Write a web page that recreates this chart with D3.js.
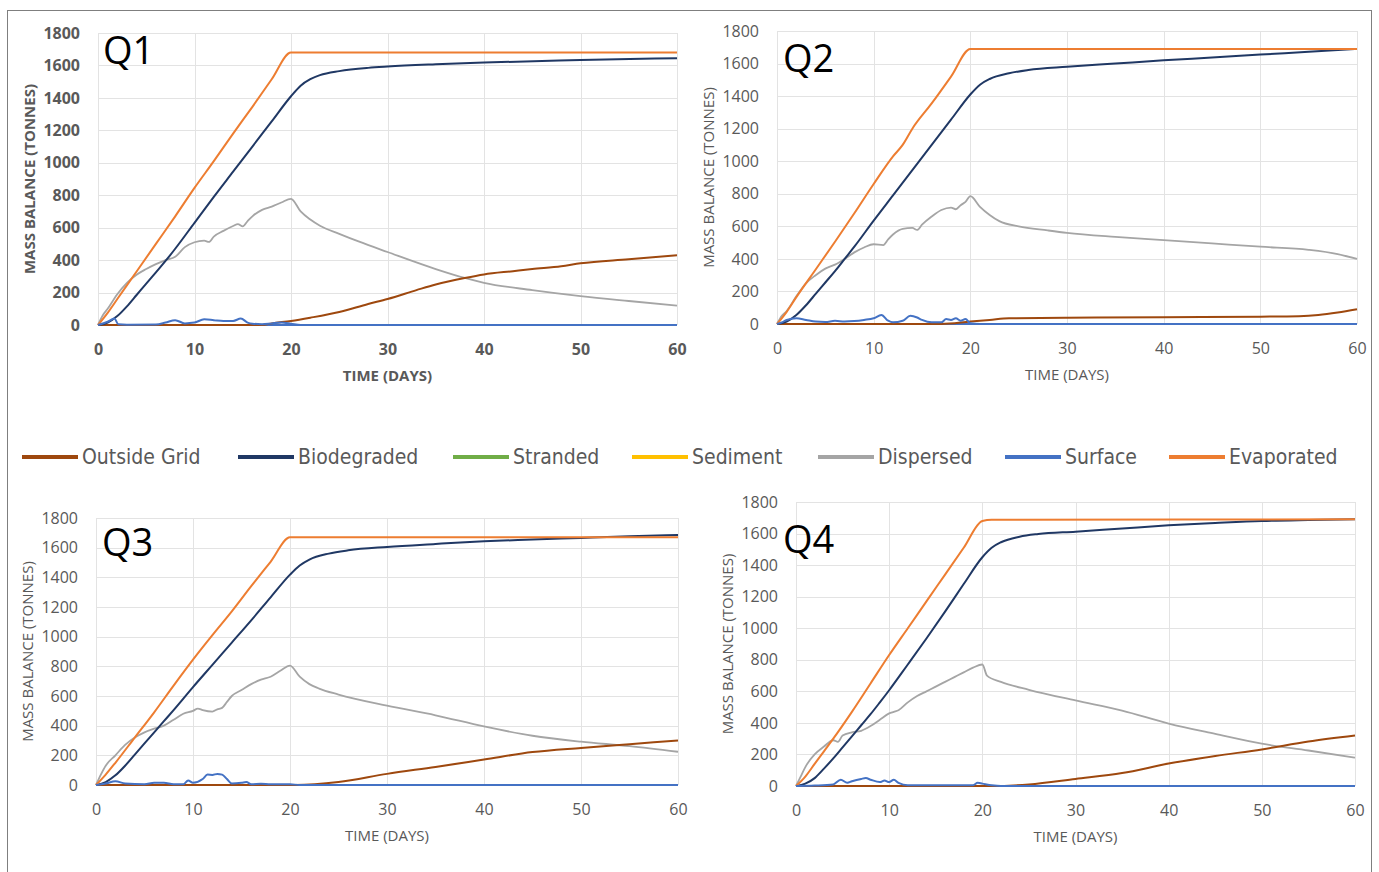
<!DOCTYPE html>
<html>
<head>
<meta charset="utf-8">
<script src="https://cdn.jsdelivr.net/npm/d3@7"></script>
<style>
  body { margin: 0; background: #fff; }
  svg { display: block; }
</style>
</head>
<body>
<div id="chart"></div>
<script>
// series names + colours (legend order)
const seriesNames = ["Outside Grid", "Biodegraded", "Stranded", "Sediment", "Dispersed", "Surface", "Evaporated"]
const seriesColors = ["#9e480e", "#203864", "#70ad47", "#ffc000", "#a5a5a5", "#4472c4", "#ed7d31"]

const xTicks = [0, 10, 20, 30, 40, 50, 60]
const yTicks = [0, 200, 400, 600, 800, 1000, 1200, 1400, 1600, 1800]

// ---- Q1 ---- [day, tonnes]
const q1Evaporated = [[0,0],[1,75],[2,160],[4,330],[6,500],[8,670],[10,845],[12,1010],[14,1180],[16,1345],[18,1515],[20,1680],[60,1680]]
const q1Biodegraded = [[0,0],[1,15],[2,55],[3,115],[4,185],[5,255],[6,325],[7,395],[8,470],[10,630],[12,790],[14,945],[16,1100],[18,1255],[20,1410],[21,1475],[22,1515],[23,1540],[25,1565],[28,1585],[30,1593],[35,1607],[40,1618],[50,1633],[60,1645]]
const q1Dispersed = [[0,0],[0.5,60],[1,100],[2,190],[3,260],[4,310],[5,345],[6,375],[7,400],[8,420],[9,480],[10,510],[11,520],[11.5,512],[12,545],[13,580],[14,610],[14.5,622],[15,608],[15.5,640],[16,670],[17,710],[18,730],[19,755],[20,778],[21,700],[22,650],[23,612],[25,562],[27,515],[30,450],[35,345],[38,290],[40,260],[45,215],[50,178],[55,148],[60,120]]
const q1OutsideGrid = [[0,0],[17,0],[18,10],[20,25],[22,45],[25,80],[28,130],[30,160],[33,215],[35,250],[38,290],[40,312],[43,332],[45,345],[48,362],[50,380],[55,405],[60,430]]
const q1Surface = [[0,0],[1,20],[1.7,40],[2.1,5],[3,2],[6,3],[7,15],[8,30],[9,10],[10,15],[11,35],[12,30],[13,25],[14,25],[14.8,40],[15.5,15],[16,8],[17,5],[18,10],[19,15],[20,8],[21,0],[60,0]]

// ---- Q2 ----
const q2Evaporated = [[0,0],[1,75],[2,165],[4,335],[6,505],[8,680],[10,860],[12,1030],[13,1100],[14,1200],[16,1355],[18,1520],[20,1690],[60,1690]]
const q2Biodegraded = [[0,0],[1,15],[2,55],[3,115],[4,185],[5,255],[6,325],[7,400],[8,475],[10,635],[12,790],[14,945],[16,1100],[18,1255],[20,1410],[21,1470],[22,1505],[24,1540],[26,1560],[30,1580],[35,1600],[40,1620],[45,1637],[50,1655],[55,1672],[60,1690]]
const q2Dispersed = [[0,0],[0.5,50],[1,80],[2,170],[3,250],[4,300],[5,340],[6,365],[7,400],[8,440],[9,470],[10,490],[11,485],[11.5,520],[12,550],[13,585],[14,590],[14.5,578],[15,610],[16,660],[17,700],[18,715],[18.5,705],[19,730],[19.5,750],[20,785],[21,720],[22,670],[23,632],[25,600],[28,575],[30,560],[35,535],[40,515],[45,495],[50,475],[55,456],[58,430],[60,400]]
const q2OutsideGrid = [[0,0],[17,0],[20,15],[22,25],[24,35],[30,38],[40,42],[50,45],[54,48],[56,55],[58,70],[60,90]]
const q2Surface = [[0,0],[0.5,10],[1,25],[2,35],[3,25],[4,15],[5,12],[6,20],[7,15],[8,18],[9,25],[10,35],[10.8,55],[11.5,20],[12,10],[13,20],[13.8,50],[14.5,40],[15,25],[16,10],[17,10],[17.5,30],[18,25],[18.5,35],[19,20],[19.5,30],[20,5],[21,0],[60,0]]

// ---- Q3 ----
const q3Evaporated = [[0,0],[1,70],[2,150],[4,320],[6,490],[8,670],[10,845],[12,1010],[14,1170],[16,1340],[18,1505],[20,1670],[60,1670]]
const q3Biodegraded = [[0,0],[1,20],[2,65],[3,130],[4,205],[5,280],[6,355],[7,430],[8,505],[10,660],[12,810],[14,960],[16,1110],[18,1265],[20,1418],[21,1480],[22,1520],[24,1560],[26,1582],[30,1605],[35,1625],[40,1643],[45,1655],[50,1666],[55,1677],[60,1686]]
const q3Dispersed = [[0,0],[0.5,70],[1,130],[2,200],[3,270],[4,320],[5,355],[6,380],[7,400],[8,440],[9,480],[10,500],[10.5,515],[11,505],[12,495],[12.5,510],[13,520],[13.5,560],[14,600],[15,640],[16,680],[17,710],[18,730],[19,770],[20,805],[21,730],[22,680],[23,650],[25,610],[30,535],[35,470],[40,395],[45,332],[50,292],[55,262],[60,224]]
const q3OutsideGrid = [[0,0],[20.5,0],[25,20],[30,75],[35,122],[40,172],[45,222],[50,250],[55,275],[60,300]]
const q3Surface = [[0,0],[1,10],[2,25],[3,10],[5,5],[6,15],[7,15],[8,5],[9,5],[9.5,30],[10,15],[11,40],[11.5,70],[12,68],[12.5,75],[13,70],[13.5,40],[14,10],[15,15],[15.5,20],[16,5],[17,8],[18,5],[20,5],[21,0],[60,0]]

// ---- Q4 ----
const q4Evaporated = [[0,0],[1,60],[2,140],[3,220],[4,300],[6,470],[8,650],[10,830],[12,1000],[14,1170],[16,1340],[18,1510],[20,1680],[21,1688],[60,1690]]
const q4Biodegraded = [[0,0],[1,15],[2,50],[3,110],[4,175],[5,245],[6,315],[7,385],[8,455],[9,530],[10,607],[12,770],[14,935],[16,1105],[18,1280],[20,1450],[21,1510],[22,1545],[24,1580],[26,1597],[30,1612],[35,1632],[40,1652],[45,1667],[50,1680],[55,1686],[60,1690]]
const q4Dispersed = [[0,0],[0.5,60],[1,120],[2,200],[3,250],[4,290],[4.5,280],[5,320],[6,340],[7,350],[8,380],[9,420],[10,460],[10.5,470],[11,480],[12,530],[13,570],[14,600],[15,630],[16,660],[17,690],[18,720],[19,750],[20,770],[20.5,700],[22,660],[25,610],[30,542],[35,478],[40,396],[45,330],[50,268],[55,225],[60,180]]
const q4OutsideGrid = [[0,0],[21,0],[25,10],[30,45],[35,82],[40,142],[45,190],[50,232],[55,282],[60,320]]
const q4Surface = [[0,0],[2,3],[4,10],[4.8,40],[5.5,20],[6,30],[7,45],[7.5,50],[8,40],[9,25],[9.5,35],[10,25],[10.5,40],[11,20],[12,5],[19,5],[19.5,20],[20,15],[21,5],[22,0],[60,0]]

const zeros = [[0,0],[60,0]]

const panels = [
  {label: "Q1", bold: true,  x0: 98,  x1: 677,  y0: 33,  y1: 325, lx: 103, ly: 64,
   data: {"Outside Grid": q1OutsideGrid, "Biodegraded": q1Biodegraded, "Dispersed": q1Dispersed, "Surface": q1Surface, "Evaporated": q1Evaporated}},
  {label: "Q2", bold: false, x0: 777, x1: 1357, y0: 31,  y1: 324, lx: 783, ly: 72,
   data: {"Outside Grid": q2OutsideGrid, "Biodegraded": q2Biodegraded, "Dispersed": q2Dispersed, "Surface": q2Surface, "Evaporated": q2Evaporated}},
  {label: "Q3", bold: false, x0: 96,  x1: 678,  y0: 518, y1: 785, lx: 102, ly: 556,
   data: {"Outside Grid": q3OutsideGrid, "Biodegraded": q3Biodegraded, "Dispersed": q3Dispersed, "Surface": q3Surface, "Evaporated": q3Evaporated}},
  {label: "Q4", bold: false, x0: 796, x1: 1355, y0: 502, y1: 786, lx: 783, ly: 553,
   data: {"Outside Grid": q4OutsideGrid, "Biodegraded": q4Biodegraded, "Dispersed": q4Dispersed, "Surface": q4Surface, "Evaporated": q4Evaporated}}
]

// draw order: zero series first, surface last so the blue baseline shows
const drawOrder = ["Stranded", "Sediment", "Dispersed", "Outside Grid", "Biodegraded", "Evaporated", "Surface"]

const color = d3.scaleOrdinal().domain(seriesNames).range(seriesColors)

const W = 1379, H = 872
const font = "'Open Sans', 'Noto Sans', sans-serif"
const textGrey = "#595959"

const svg = d3.select("#chart").append("svg")
      .attr("width", W)
      .attr("height", H)

svg.append("rect")
  .attr("x", 7.5).attr("y", 10.5)
  .attr("width", 1364).attr("height", 870)
  .attr("fill", "none")
  .attr("stroke", "#7f7f7f")

function drawPanel(p) {
  const x = d3.scaleLinear().domain([0, 60]).range([p.x0, p.x1])
  const y = d3.scaleLinear().domain([0, 1800]).range([p.y1, p.y0])
  const g = svg.append("g")
  const weight = p.bold ? "bold" : "normal"

  // gridlines
  g.append("g")
    .selectAll("line")
    .data(yTicks)
    .join("line")
    .attr("x1", p.x0).attr("x2", p.x1)
    .attr("y1", d => Math.round(y(d)) + 0.5).attr("y2", d => Math.round(y(d)) + 0.5)
    .attr("stroke", "#e3e3e3")
  g.append("g")
    .selectAll("line")
    .data(xTicks)
    .join("line")
    .attr("y1", p.y0).attr("y2", p.y1)
    .attr("x1", d => Math.round(x(d)) + 0.5).attr("x2", d => Math.round(x(d)) + 0.5)
    .attr("stroke", "#e3e3e3")

  // axes
  const xAxis = g.append("g")
    .attr("transform", `translate(0,${p.y1})`)
    .call(d3.axisBottom(x).tickValues(xTicks).tickSize(0).tickPadding(19))
  const yAxis = g.append("g")
    .attr("transform", `translate(${p.x0},0)`)
    .call(d3.axisLeft(y).tickValues(yTicks).tickFormat(d3.format("d")).tickSize(0).tickPadding(18))
  for (const ax of [xAxis, yAxis]) {
    ax.select(".domain").remove()
    ax.selectAll("text")
      .attr("font-family", font)
      .attr("font-size", "16px")
      .attr("font-weight", weight)
      .attr("fill", textGrey)
  }

  g.append("text")
    .attr("x", (p.x0 + p.x1) / 2)
    .attr("y", p.y1 + 56)
    .attr("text-anchor", "middle")
    .attr("font-family", font)
    .attr("font-size", "15px")
    .attr("font-weight", weight)
    .attr("fill", textGrey)
    .text("TIME (DAYS)")

  g.append("text")
    .attr("transform", `translate(${p.x0 - 63},${(p.y0 + p.y1) / 2}) rotate(-90)`)
    .attr("text-anchor", "middle")
    .attr("font-family", font)
    .attr("font-size", "15px")
    .attr("font-weight", weight)
    .attr("fill", textGrey)
    .text("MASS BALANCE (TONNES)")

  const line = d3.line()
    .x(d => x(d[0]))
    .y(d => y(d[1]))
    .curve(d3.curveMonotoneX)

  drawOrder.forEach(name => {
    const pts = p.data[name] || zeros
    g.append("path")
      .datum(pts)
      .attr("d", line)
      .attr("fill", "none")
      .attr("stroke", color(name))
      .attr("stroke-width", name == "Dispersed" ? 1.8 : 2)
      .attr("stroke-linejoin", "round")
    // blue baseline sits above the zero series, as in the source chart
    if (name == "Sediment") {
      g.append("line")
        .attr("x1", p.x0).attr("x2", p.x1)
        .attr("y1", y(0)).attr("y2", y(0))
        .attr("stroke", color("Surface"))
        .attr("stroke-width", 2)
    }
  })

  g.append("text")
    .attr("x", p.lx)
    .attr("y", p.ly)
    .attr("font-family", "'Open Sans', sans-serif")
    .attr("font-size", "38px")
    .attr("fill", "#000")
    .text(p.label)
}

panels.forEach(drawPanel)

// legend
const legendX = [22, 238, 453, 632, 818, 1005, 1169]
const legend = svg.append("g").attr("transform", "translate(0,457)")
const items = legend.selectAll("g")
  .data(seriesNames)
  .join("g")
  .attr("transform", (d, i) => `translate(${legendX[i]},0)`)
items.append("line")
  .attr("x1", 0).attr("x2", 56)
  .attr("stroke", d => color(d))
  .attr("stroke-width", 4)
items.append("text")
  .attr("x", 60)
  .attr("y", 7)
  .attr("font-family", "'Liberation Sans Narrow', 'DejaVu Sans Condensed', sans-serif")
  .attr("font-size", "21px")
  .attr("fill", textGrey)
  .text(d => d)
</script>
</body>
</html>
